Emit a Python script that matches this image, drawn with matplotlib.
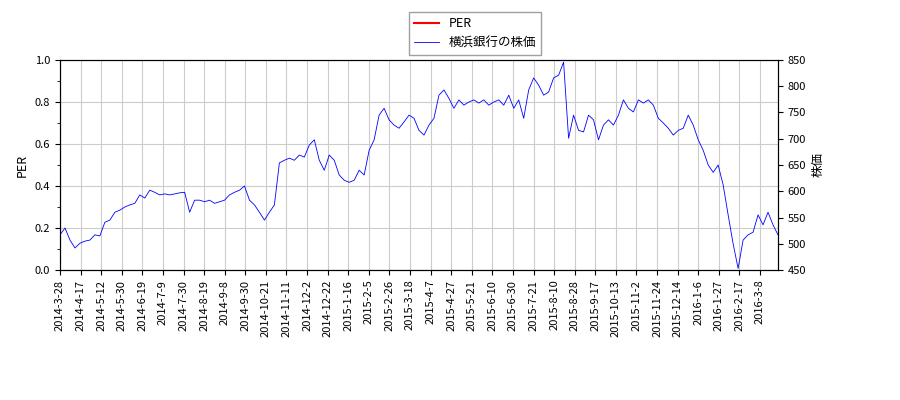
import matplotlib
matplotlib.use("Agg")
import matplotlib.pyplot as plt
import pandas as pd
import numpy as np

plt.rcParams['font.family'] = ['Noto Sans CJK JP', 'DejaVu Sans']

prices = [517,530,507,492,501,505,507,517,515,541,545,560,564,570,574,577,593,587,602,598,
          593,595,593,595,597,598,560,583,583,580,583,577,580,583,593,598,602,610,583,574,
          560,545,560,574,654,659,663,659,669,665,688,698,659,640,669,659,631,621,617,621,
          640,631,678,698,745,758,736,726,720,732,745,739,716,707,726,739,783,793,777,758,
          774,764,770,774,768,774,764,770,774,764,783,758,774,739,793,816,802,783,789,816,
          821,846,701,745,716,713,745,736,698,726,736,726,745,774,758,751,774,768,774,764,
          739,730,720,707,716,720,745,726,698,678,650,636,650,612,555,500,453,507,517,522,
          555,536,560,536,517]

tick_labels = ['2014-3-28','2014-4-17','2014-5-12','2014-5-30','2014-6-19','2014-7-9','2014-7-30',
               '2014-8-19','2014-9-8','2014-9-30','2014-10-21','2014-11-11','2014-12-2','2014-12-22',
               '2015-1-16','2015-2-5','2015-2-26','2015-3-18','2015-4-7','2015-4-27','2015-5-21',
               '2015-6-10','2015-6-30','2015-7-21','2015-8-10','2015-8-28','2015-9-17','2015-10-13',
               '2015-11-2','2015-11-24','2015-12-14','2016-1-6','2016-1-27','2016-2-17','2016-3-8']

# trading-day style index axis
xs = np.arange(len(prices))
tick_step = (len(prices) - 1) * 700 / 718 / (len(tick_labels) - 1)
tick_pos = np.arange(len(tick_labels)) * tick_step

fig = plt.figure(figsize=(9, 4), dpi=100)
ax = fig.add_axes([60/900, 130/400, 718/900, 210/400])
ax.set_ylim(0, 1.0)
ax.set_yticks([0, 0.2, 0.4, 0.6, 0.8, 1.0])
ax.set_ylabel('PER', fontsize=9)
l1, = ax.plot([], [], color='red', label='PER')
ax.grid(True, color='#cccccc')
ax.tick_params(labelsize=8)
ax.yaxis.set_minor_locator(matplotlib.ticker.AutoMinorLocator(2))

ax2 = ax.twinx()
l2, = ax2.plot(xs, prices, color='blue', lw=0.6, label='横浜銀行の株価')
ax2.set_ylim(450, 850)
ax2.set_ylabel('株価', fontsize=9)
ax2.tick_params(labelsize=8)

ax.set_xlim(xs[0], xs[-1])
ax.set_xticks(tick_pos)
ax.set_xticklabels(tick_labels, rotation=90, fontsize=8)

fig.legend(handles=[l1, l2], loc='upper center', bbox_to_anchor=(475/900, 0.985),
           fontsize=9, fancybox=False, edgecolor='#888888')
fig.savefig('out.png')
